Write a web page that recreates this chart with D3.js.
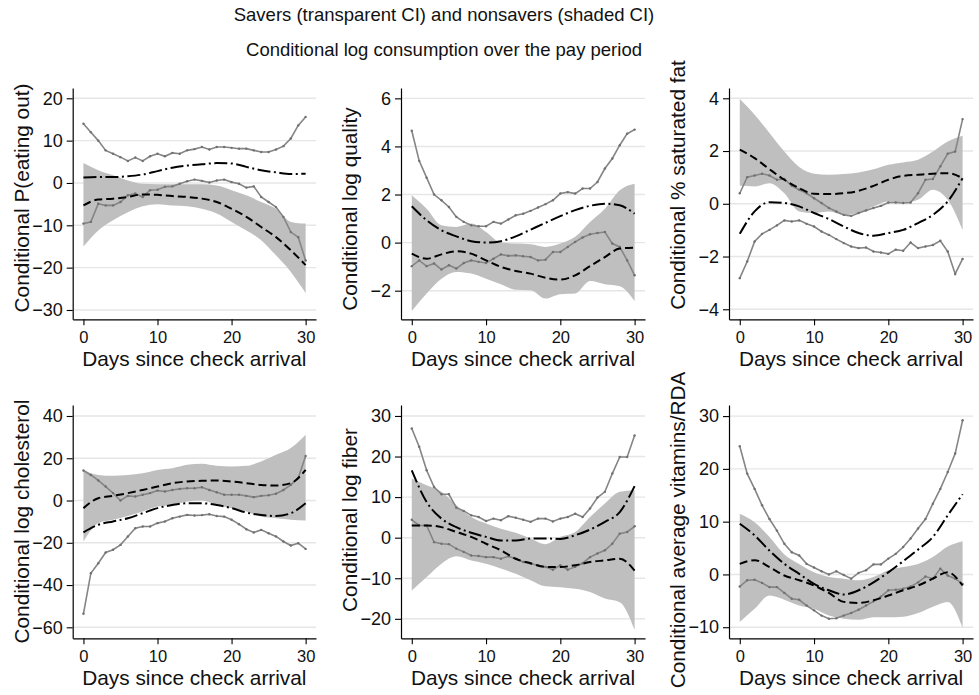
<!DOCTYPE html>
<html>
<head>
<meta charset="utf-8">
<script src="https://cdn.jsdelivr.net/npm/d3@7"></script>
<style>
  html, body { margin: 0; padding: 0; background: #fff; }
  svg { display: block; font-family: "Liberation Sans", Arial, Helvetica, sans-serif; }
</style>
</head>
<body>
<svg id="chart" width="979" height="695"></svg>
<script>
// ---------------- DATA ----------------
const titleLines = ["Savers (transparent CI) and nonsavers (shaded CI)", "Conditional log consumption over the pay period"];
const xTitle = "Days since check arrival";
const xTicks = [0, 10, 20, 30];
const daysAll = d3.range(0, 31);          // 0..30, each day
const daysEven = d3.range(0, 31, 2);      // 0,2,...,30

const panelTitles = [
  "Conditional P(eating out)", "Conditional log quality", "Conditional % saturated fat",
  "Conditional log cholesterol", "Conditional log fiber", "Conditional average vitamins/RDA"
];
const yTicks1 = [-30, -20, -10, 0, 10, 20];
const yTicks2 = [-2, 0, 2, 4, 6];
const yTicks3 = [-4, -2, 0, 2, 4];
const yTicks4 = [-60, -40, -20, 0, 20, 40];
const yTicks5 = [-20, -10, 0, 10, 20, 30];
const yTicks6 = [-10, 0, 10, 20, 30];

// Panel 1: P(eating out)
const p1SavHi = [14.0,12.0,10.0,7.7,6.9,6.1,5.2,6.0,5.2,6.3,6.9,6.3,7.1,6.9,7.7,8.0,8.5,7.9,8.5,8.5,8.3,8.1,8.1,7.7,7.3,7.3,7.9,8.7,10.5,13.6,15.6];
const p1SavLo = [-9.6,-9.2,-4.9,-5.3,-5.3,-4.5,-2.9,-2.5,-3.3,-1.7,-1.6,-0.9,-0.8,-0.2,0.4,0.8,0.5,0.1,0.6,0.8,0.2,-0.2,-1.1,-0.8,-3.3,-4.5,-5.7,-8.0,-11.6,-12.8,-18.3];
const p1SavEst = [1.3,1.4,1.4,1.6,2.0,2.8,3.6,4.1,4.4,4.7,4.6,3.8,3.0,2.5,2.1,2.2];
const p1NonEst = [-5.3,-3.9,-3.7,-3.3,-2.7,-2.8,-3.1,-3.3,-3.7,-4.5,-6.1,-8.0,-10.4,-12.8,-15.9,-19.4];
const p1BandHi = [4.7,3.0,1.8,0.6,-0.2,-0.3,-0.3,-0.3,-0.3,-0.6,-1.7,-2.9,-4.5,-6.1,-9.2,-9.6];
const p1BandLo = [-15.0,-11.2,-8.8,-6.9,-5.5,-5.0,-5.3,-5.5,-6.1,-7.2,-9.2,-11.2,-13.5,-17.1,-21.0,-26.0];

// Panel 2: log quality
const p2SavHi = [4.65,3.4,2.7,2.0,1.76,1.48,1.07,0.86,0.72,0.68,0.68,0.86,0.79,0.96,1.14,1.2,1.32,1.46,1.6,1.76,2.04,2.1,2.04,2.25,2.25,2.52,3.08,3.5,4.05,4.53,4.7];
const p2SavLo = [-0.98,-0.74,-0.98,-0.87,-1.12,-0.94,-1.08,-0.85,-0.74,-0.8,-0.85,-0.67,-0.49,-0.55,-0.53,-0.57,-0.6,-0.74,-0.71,-0.39,-0.39,-0.18,0.03,0.21,0.35,0.4,0.44,-0.04,-0.18,-0.74,-1.36];
const p2SavEst = [1.51,0.93,0.51,0.26,0.06,0.0,0.06,0.26,0.54,0.82,1.1,1.35,1.53,1.62,1.55,1.2];
const p2NonEst = [-0.46,-0.67,-0.49,-0.36,-0.46,-0.74,-1.01,-1.18,-1.29,-1.46,-1.54,-1.36,-0.98,-0.6,-0.25,-0.21];
const p2BandHi = [1.97,1.41,0.72,0.65,0.79,0.44,0.0,-0.04,-0.07,-0.18,-0.04,0.24,0.86,1.41,2.18,2.45];
const p2BandLo = [-2.84,-2.12,-1.5,-1.22,-1.29,-1.5,-1.73,-1.96,-1.98,-2.33,-2.15,-2.12,-1.6,-1.73,-1.82,-2.43];

// Panel 3: % saturated fat
const p3SavHi = [0.4,1.01,1.07,1.14,1.07,0.91,0.94,0.68,0.53,0.4,0.21,0.03,-0.16,-0.29,-0.42,-0.46,-0.35,-0.25,-0.16,-0.08,0.05,0.05,0.03,0.05,0.4,0.91,0.94,1.42,1.9,1.98,3.21];
const p3SavLo = [-2.82,-2.19,-1.43,-1.14,-0.99,-0.82,-0.63,-0.67,-0.63,-0.76,-0.86,-1.05,-1.18,-1.34,-1.49,-1.62,-1.68,-1.66,-1.81,-1.85,-1.9,-1.74,-1.78,-1.47,-1.68,-1.62,-1.56,-1.4,-1.81,-2.66,-2.09];
const p3SavEst = [-1.14,-0.29,0.06,0.03,-0.1,-0.35,-0.58,-0.86,-1.11,-1.21,-1.11,-0.99,-0.73,-0.42,0.09,0.97];
const p3NonEst = [2.05,1.73,1.31,0.91,0.59,0.38,0.37,0.4,0.49,0.68,0.91,1.06,1.1,1.14,1.16,0.97];
const p3BandHi = [3.97,3.38,2.68,1.98,1.39,1.14,1.1,1.13,1.19,1.31,1.48,1.57,1.67,1.98,2.36,2.58];
const p3BandLo = [0.68,0.66,0.78,0.4,-0.29,-0.35,-0.29,-0.42,-0.33,-0.1,0.09,0.05,0.15,0.53,0.15,-0.99];

// Panel 4: log cholesterol
const p4SavHi = [14.2,12.1,9.5,6.6,3.5,0,2.2,1.9,2.7,3.5,4.7,4.3,5.0,5.5,5.8,5.8,6.3,5.0,3.9,2.7,2.7,2.7,2.2,1.6,2.2,2.5,3.2,5.0,7.4,10.6,21.1];
const p4SavLo = [-53.6,-34.4,-29.7,-24.6,-23.3,-21.0,-17.0,-13.1,-12.3,-12.3,-10.7,-9.9,-8.4,-7.6,-6.8,-7.1,-6.9,-6.5,-7.3,-7.6,-9.1,-11.2,-13.6,-15.1,-13.9,-15.5,-17.0,-19.4,-21.3,-20.2,-22.9];
const p4SavEst = [-15.1,-11.5,-9.9,-8.4,-6.0,-3.6,-2.1,-1.3,-1.3,-2.1,-3.6,-5.7,-6.9,-7.3,-6.0,-1.3];
const p4NonEst = [-3.6,1.1,2.2,3.5,5.0,6.6,8.2,9.0,9.3,9.5,9.0,8.2,7.4,7.1,8.2,14.5];
const p4BandHi = [14.5,12.1,11.7,12.1,12.9,14.5,15.3,16.9,17.4,16.4,16.1,16.4,18.5,21.6,24.8,31.1];
const p4BandLo = [-19.4,-10.7,-9.1,-7.3,-5.2,-2.8,-2.1,-0.5,0,-2.1,-3.6,-5.2,-7.6,-8.4,-9.1,-9.5];

// Panel 5: log fiber
const p5SavHi = [26.9,22.4,16.6,12.5,10.7,10.7,7.4,6.6,5.5,5.1,4.1,4.7,4.3,5.3,4.9,4.4,3.9,4.7,4.7,4.0,4.7,5.1,5.9,5.1,7.2,9.9,11.3,15.8,19.9,19.9,25.2];
const p5SavLo = [4.4,3.0,3.0,-1.1,-1.5,-1.6,-2.7,-3.5,-4.4,-4.5,-4.8,-4.8,-5.2,-4.6,-5.2,-6.0,-6.4,-6.8,-7.2,-7.9,-6.8,-7.9,-7.2,-6.3,-4.8,-3.9,-3.1,-1.5,1.0,1.4,2.8];
const p5SavEst = [16.6,8.8,4.7,2.6,1.2,0.2,-0.7,-0.7,-0.2,-0.2,-0.3,0.6,2.0,3.9,6.3,12.7];
const p5NonEst = [3.0,3.0,2.6,1.4,0.2,-1.5,-3.1,-5.2,-6.3,-7.2,-7.2,-6.8,-6.0,-5.6,-5.2,-8.1];
const p5BandHi = [14.6,12.9,11.3,8.0,5.1,3.5,2.2,1.2,-0.2,-1.6,0.2,1.4,5.1,8.4,11.3,11.7];
const p5BandLo = [-13.0,-9.7,-6.4,-4.6,-5.6,-6.4,-7.6,-8.9,-10.5,-12.0,-12.2,-12.6,-13.4,-15.0,-15.9,-22.7];

// Panel 6: average vitamins/RDA
const p6SavHi = [24.3,19.1,16.2,13.1,10.5,8.3,5.8,4.2,3.6,2.0,1.3,0.6,0,0.6,-0.1,-0.8,0.3,0.8,1.9,1.9,3.0,3.9,5.2,6.8,8.7,10.5,13.4,16.2,19.4,22.9,29.2];
const p6SavLo = [-2.3,-1.1,-1.0,-1.6,-2.4,-2.4,-3.5,-4.6,-4.8,-5.9,-6.8,-7.8,-8.4,-8.3,-7.8,-7.3,-6.7,-5.9,-5.1,-4.2,-3.0,-2.9,-2.7,-2.3,-1.5,-0.4,-0.8,1.1,-0.2,-0.8,-1.8];
const p6SavEst = [9.6,7.4,4.5,2.0,0.1,-1.8,-3.0,-3.8,-3.0,-1.5,0.4,2.5,4.7,7.1,11.2,15.2];
const p6NonEst = [2.0,2.7,1.4,-0.2,-1.1,-2.1,-3.5,-5.2,-5.4,-4.9,-4.0,-3.0,-2.1,-0.8,0.4,-2.1];
const p6BandHi = [11.5,9.9,7.1,3.8,2.0,0.4,-0.5,-0.8,-1.1,-0.5,0.8,1.4,2.0,3.3,5.3,6.3];
const p6BandLo = [-9.0,-6.5,-4.0,-4.8,-5.9,-6.5,-7.8,-8.4,-8.6,-8.1,-8.1,-8.0,-7.3,-6.1,-5.2,-10.1];

// ---------------- LAYOUT / STYLE ----------------
const FONT_YTICK = 18, FONT_XTICK = 16.5, FONT_AXIS = 20.8, FONT_TITLE = 18.5;
const colAxisX = [72.7, 401, 729];
const colRight = [316, 645, 973];
const rowTop = [88, 405];
const rowBottom = [319.3, 638.3];
const xDomain = [-1.45, 31.4];
const yTitleCenter = [198, 209, 185, 521.5, 520, 530];

const panels = [
  { title: panelTitles[0], ticks: yTicks1, yDom: [-32.2, 22.43], hi: p1SavHi, lo: p1SavLo, sEst: p1SavEst, nEst: p1NonEst, bHi: p1BandHi, bLo: p1BandLo },
  { title: panelTitles[1], ticks: yTicks2, yDom: [-3.19, 6.43], hi: p2SavHi, lo: p2SavLo, sEst: p2SavEst, nEst: p2NonEst, bHi: p2BandHi, bLo: p2BandLo },
  { title: panelTitles[2], ticks: yTicks3, yDom: [-4.38, 4.39], hi: p3SavHi, lo: p3SavLo, sEst: p3SavEst, nEst: p3NonEst, bHi: p3BandHi, bLo: p3BandLo },
  { title: panelTitles[3], ticks: yTicks4, yDom: [-65.2, 45.2], hi: p4SavHi, lo: p4SavLo, sEst: p4SavEst, nEst: p4NonEst, bHi: p4BandHi, bLo: p4BandLo },
  { title: panelTitles[4], ticks: yTicks5, yDom: [-24.8, 32.7], hi: p5SavHi, lo: p5SavLo, sEst: p5SavEst, nEst: p5NonEst, bHi: p5BandHi, bLo: p5BandLo },
  { title: panelTitles[5], ticks: yTicks6, yDom: [-12.1, 32.1], hi: p6SavHi, lo: p6SavLo, sEst: p6SavEst, nEst: p6NonEst, bHi: p6BandHi, bLo: p6BandLo }
];

const svg = d3.select("#chart");

// Titles
svg.append("text").attr("x", 444).attr("y", 20.5).attr("text-anchor", "middle")
  .attr("font-size", FONT_TITLE).attr("fill", "#111").text(titleLines[0]);
svg.append("text").attr("x", 444).attr("y", 55.5).attr("text-anchor", "middle")
  .attr("font-size", FONT_TITLE).attr("fill", "#111").text(titleLines[1]);

panels.forEach((p, i) => {
  const col = i % 3, row = Math.floor(i / 3);
  const x0 = colAxisX[col], x1 = colRight[col];
  const yT = rowTop[row], yB = rowBottom[row];
  const x = d3.scaleLinear().domain(xDomain).range([x0, x1]);
  const y = d3.scaleLinear().domain(p.yDom).range([yB, yT]);
  const g = svg.append("g");

  // gridlines
  g.selectAll("line.grid").data(p.ticks).join("line")
    .attr("class", "grid")
    .attr("x1", x0).attr("x2", x1)
    .attr("y1", d => y(d)).attr("y2", d => y(d))
    .attr("stroke", "#e6e6e6").attr("stroke-width", 1.4);

  // nonsaver CI band
  const area = d3.area().x((d, k) => x(daysEven[k])).y0((d) => y(d[0])).y1(d => y(d[1])).curve(d3.curveMonotoneX);
  g.append("path").datum(p.bLo.map((v, k) => [v, p.bHi[k]]))
    .attr("d", area).attr("fill", "#bfbfbf").attr("stroke", "none");

  // saver CI lines (gray with small markers)
  const lineAll = d3.line().x((d, k) => x(daysAll[k])).y(d => y(d));
  [p.hi, p.lo].forEach(arr => {
    g.append("path").datum(arr).attr("d", lineAll)
      .attr("fill", "none").attr("stroke", "#858585").attr("stroke-width", 1.6);
    g.selectAll(null).data(arr).join("circle")
      .attr("cx", (d, k) => x(daysAll[k])).attr("cy", d => y(d)).attr("r", 1.2)
      .attr("fill", "#707070");
  });

  // estimates
  const lineEven = d3.line().x((d, k) => x(daysEven[k])).y(d => y(d)).curve(d3.curveMonotoneX);
  g.append("path").datum(p.nEst).attr("d", lineEven)
    .attr("fill", "none").attr("stroke", "#000").attr("stroke-width", 2)
    .attr("stroke-dasharray", "8,4");
  g.append("path").datum(p.sEst).attr("d", lineEven)
    .attr("fill", "none").attr("stroke", "#000").attr("stroke-width", 2)
    .attr("stroke-dasharray", "13,3.5,2,3.5");

  // axes
  const ya = d3.axisLeft(y).tickValues(p.ticks).tickSize(6).tickSizeOuter(0).tickPadding(4)
    .tickFormat(d => d3.format("")(d).replace("-", "\u2212"));
  const yg = g.append("g").attr("transform", `translate(${x0},0)`).call(ya);
  const xa = d3.axisBottom(x).tickValues(xTicks).tickSize(6).tickSizeOuter(0).tickPadding(5.5);
  const xg = g.append("g").attr("transform", `translate(0,${yB})`).call(xa);
  yg.attr("font-family", null).attr("font-size", FONT_YTICK);
  xg.attr("font-family", null).attr("font-size", FONT_XTICK);
  [yg, xg].forEach(a => {
    a.selectAll("path.domain").attr("stroke", "#000").attr("stroke-width", 1.2);
    a.selectAll(".tick line").attr("stroke", "#000").attr("stroke-width", 1.1);
    a.selectAll(".tick text").attr("fill", "#111");
  });

  // axis titles
  g.append("text").attr("x", (x0 + x1) / 2).attr("y", yB + 47).attr("text-anchor", "middle")
    .attr("font-size", FONT_AXIS).attr("fill", "#111").text(xTitle);
  g.append("text")
    .attr("transform", `translate(${x0 - 44},${yTitleCenter[i]}) rotate(-90)`)
    .attr("text-anchor", "middle").attr("font-size", FONT_AXIS).attr("fill", "#111").text(p.title);
});
</script>
</body>
</html>
